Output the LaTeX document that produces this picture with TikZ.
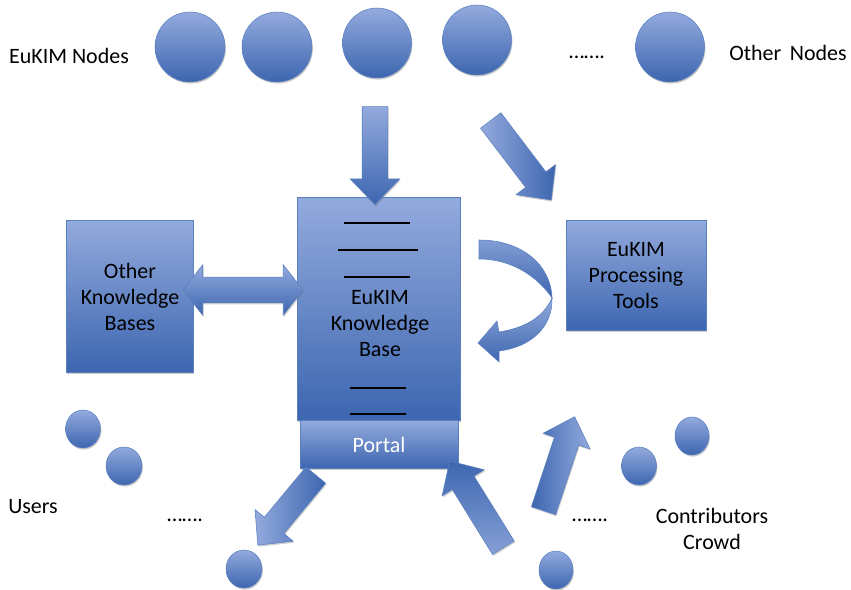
\documentclass[tikz,border=0pt]{standalone}
\usepackage{fontspec}
\setmainfont{Carlito}
\usetikzlibrary{shapes.geometric,shapes.arrows,shadows}

\definecolor{kbtop}{HTML}{93AADD}
\definecolor{kbbot}{HTML}{3D66B0}
\definecolor{kbline}{HTML}{5A80C0}

\tikzset{
  blue shade/.style={top color=kbtop,bottom color=kbbot,draw=kbline,line width=0.3pt,
    drop shadow={shadow xshift=0.5pt,shadow yshift=-0.9pt,opacity=0.35,fill=black!60}},
  box/.style={blue shade,rectangle,inner sep=0pt},
  blob/.style={blue shade,ellipse,inner sep=0pt},
  fat arrow/.style={single arrow,inner sep=0.25cm,single arrow head extend=0.24cm,
    single arrow tip angle=88,left color=kbtop,right color=kbbot,draw=kbline,line width=0.3pt,
    drop shadow={shadow xshift=0.5pt,shadow yshift=-0.9pt,opacity=0.3,fill=black!60}},
  lbl/.style={font=\fontsize{12.5}{14.8}\selectfont,align=center,inner sep=0pt},
}

\begin{document}
\begin{tikzpicture}[x=0.02cm,y=-0.02cm]
\useasboundingbox (0,0) rectangle (851,590);

%---------------------------------------------------
%top row of nodes
\node[blob,minimum width=1.4cm,minimum height=1.4cm] (n1) at (190,47) {};
\node[blob,minimum width=1.4cm,minimum height=1.4cm] (n2) at (277,47) {};
\node[blob,minimum width=1.38cm,minimum height=1.4cm] (n3) at (377,43) {};
\node[blob,minimum width=1.38cm,minimum height=1.4cm] (n4) at (477,40) {};
\node[blob,minimum width=1.38cm,minimum height=1.4cm] (n5) at (670,47) {};
\node[lbl] (eukimnodes) at (69,56) {EuKIM Nodes};
\node[lbl] (topdots) at (587,57) {…….};
\node[lbl] (othernodes) at (788,53) {Other\, Nodes};

%---------------------------------------------------
%boxes
\node[box,minimum width=3.26cm,minimum height=4.46cm] (kb) at (378.5,308.5) {};
\node[box,minimum width=3.16cm,minimum height=0.96cm] (portal) at (379,444) {};
\node[lbl,white] (portaltext) at (379,445) {Portal};
\node[lbl] (kbtext) at (380,324) {EuKIM\\Knowledge\\Base};
\node[box,minimum width=2.54cm,minimum height=3.04cm] (okb) at (129.5,296) {};
\node[lbl] (okbtext) at (130,297) {Other\\Knowledge\\Bases};
\node[box,minimum width=2.8cm,minimum height=2.2cm] (tools) at (636,275) {};
\node[lbl] (toolstext) at (636,276) {EuKIM\\Processing\\Tools};

%record lines inside the knowledge base
\draw[black,line width=0.7pt] (344,223) -- (410,223);
\draw[black,line width=0.7pt] (338,250) -- (418,250);
\draw[black,line width=0.7pt] (344,277) -- (410,277);
\draw[black,line width=0.7pt] (350,388) -- (406,388);
\draw[black,line width=0.7pt] (350,414) -- (406,414);

%---------------------------------------------------
%block arrows
\node[fat arrow,minimum height=1.96cm,rotate=-90,top color=kbtop,bottom color=kbbot] (down) at (375,149) {};
\node[fat arrow,minimum height=2.0cm,rotate=-52.7] (diag) at (517,155) {};
\node[double arrow,inner sep=0.25cm,double arrow head extend=0.25cm,double arrow tip angle=104,
  minimum height=2.4cm,top color=kbtop,bottom color=kbbot,draw=kbline,line width=0.3pt,
  drop shadow={shadow xshift=0.5pt,shadow yshift=-0.9pt,opacity=0.3,fill=black!60}]
  (both) at (243,290) {};
\node[fat arrow,minimum height=1.82cm,rotate=-129.6] (users) at (291,505) {};
\node[fat arrow,minimum height=2.04cm,rotate=121.8,top color=kbbot,bottom color=kbtop!85!kbbot] (contrib) at (480,510) {};
\node[fat arrow,minimum height=1.98cm,rotate=71.7,left color=kbbot,right color=kbtop] (crowd) at (557,470) {};

%curved arrow back into the knowledge base
\shade[top color=kbtop!80!kbbot,bottom color=kbbot,draw=kbline,line width=0.3pt]
  (479,240) .. controls (522,240) and (551,265) .. (552,298)
  .. controls (540,280) and (515,259) .. (479,259) -- cycle;
\shade[top color=kbtop,bottom color=kbbot,draw=kbline,line width=0.3pt]
  (552,298) .. controls (553,326) and (532,347) .. (499,351)
  -- (499,362) -- (478,343) -- (497,321) -- (499,332)
  .. controls (524,328) and (543,318) .. (552,298) -- cycle;

%---------------------------------------------------
%users
\node[blob,minimum width=0.7cm,minimum height=0.76cm] (u1) at (83,429) {};
\node[blob,minimum width=0.72cm,minimum height=0.76cm] (u2) at (124,466) {};
\node[blob,minimum width=0.72cm,minimum height=0.76cm] (u3) at (244,569) {};
\node[lbl] (userstext) at (33,507) {Users};
\node[lbl] (userdots) at (185,520) {…….};

%contributors
\node[blob,minimum width=0.7cm,minimum height=0.76cm] (c1) at (639,466) {};
\node[blob,minimum width=0.68cm,minimum height=0.76cm] (c2) at (692,436) {};
\node[blob,minimum width=0.68cm,minimum height=0.76cm] (c3) at (556,570) {};
\node[lbl] (contribdots) at (590,520) {…….};
\node[lbl] (crowdtext) at (712,529) {Contributors\\Crowd};

\end{tikzpicture}
\end{document}
